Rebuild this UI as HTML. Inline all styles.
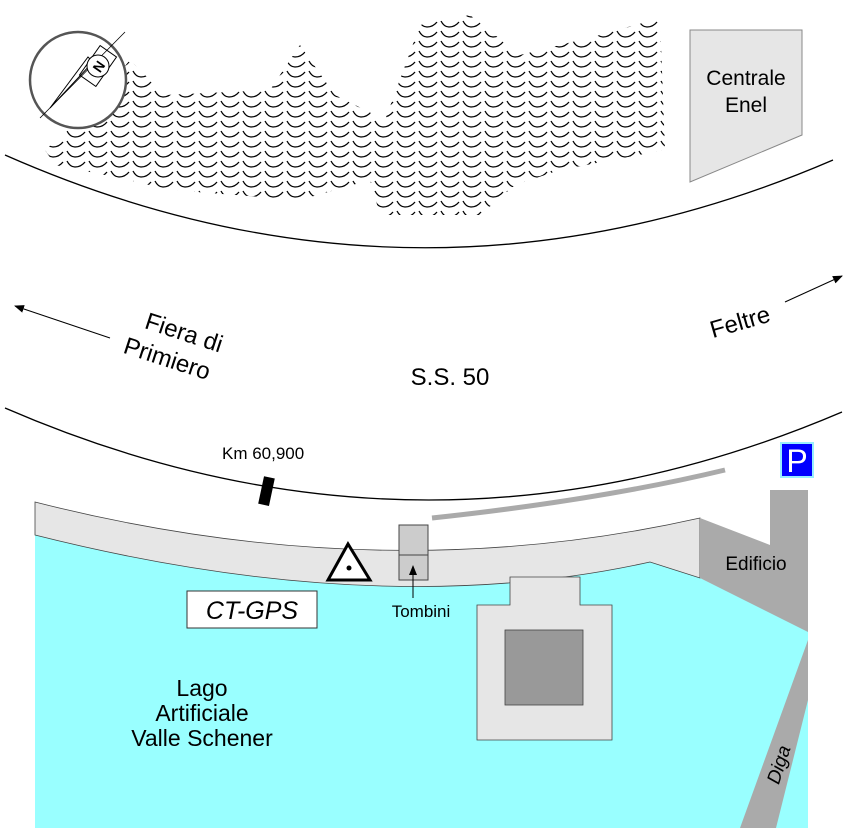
<!DOCTYPE html>
<html><head><meta charset="utf-8"><style>
html,body{margin:0;padding:0;background:#fff}
svg{display:block}
text{font-family:"Liberation Sans",Arial,sans-serif}
</style></head><body>
<svg width="847" height="836" viewBox="0 0 847 836" xmlns="http://www.w3.org/2000/svg">
<defs>
<pattern id="hat" width="22" height="10" patternUnits="userSpaceOnUse">
<path d="M1,1 q3,6 8,6 q6,0 10,-5" fill="none" stroke="#000" stroke-width="1.3"/>
</pattern>
<marker id="ar" markerWidth="10" markerHeight="10" refX="9" refY="5" orient="auto" markerUnits="userSpaceOnUse">
<path d="M0,1 L10,5 L0,9 Z" fill="#000"/>
</marker>
</defs>
<!-- mountains -->
<path d="M45,150 L80,120 L130,60 L165,95 L270,90 L300,45 L335,95 L385,120 L420,25 L470,15 L520,55 L600,35 L660,18 L665,150 L560,170 L515,185 L480,215 L380,215 L370,180 L300,200 L170,190 L120,178 L55,165 Z" fill="url(#hat)"/>
<!-- compass -->
<circle cx="78" cy="80" r="48" fill="#fff" stroke="#555" stroke-width="2.5"/>
<path d="M50,108 L93,62 L88,57 Z" fill="#fff" stroke="#000"/>
<line x1="40" y1="118" x2="125" y2="32" stroke="#000" stroke-width="0.8"/>
<rect x="88" y="48" width="20" height="36" fill="none" stroke="#000" transform="rotate(35 98 66)"/>
<circle cx="98" cy="66" r="11" fill="#fff" stroke="#000"/>
<text x="93" y="72" font-size="14" font-weight="bold" transform="rotate(-55 98 66)">N</text>
<!-- Centrale Enel -->
<path d="M690,30 L802,30 L802,135 L690,182 Z" fill="#e6e6e6" stroke="#888"/>
<text x="746" y="85" font-size="21" text-anchor="middle">Centrale</text>
<text x="746" y="112" font-size="21" text-anchor="middle">Enel</text>
<!-- road -->
<path d="M5,155 Q420,338 833,160" fill="none" stroke="#000" stroke-width="1.3"/>
<path d="M5,408 Q425,590 842,412" fill="none" stroke="#000" stroke-width="1.3"/>
<line x1="110" y1="338" x2="15" y2="306" stroke="#000" marker-end="url(#ar)"/>
<line x1="785" y1="302" x2="842" y2="276" stroke="#000" marker-end="url(#ar)"/>
<g transform="rotate(18 180 345)"><text x="180" y="340" font-size="24" text-anchor="middle">Fiera di</text><text x="172" y="370" font-size="24" text-anchor="middle">Primiero</text></g>
<text x="740" y="330" font-size="24" text-anchor="middle" transform="rotate(-16 740 322)">Feltre</text>
<text x="450" y="385" font-size="24" text-anchor="middle">S.S. 50</text>
<text x="222" y="459" font-size="17">Km 60,900</text>
<rect x="261" y="477" width="11" height="28" fill="#000" transform="rotate(12 266 491)"/>
<path d="M432,518 Q600,500 725,470" fill="none" stroke="#aaa" stroke-width="5"/>
<!-- P -->
<rect x="781" y="443" width="32" height="34" fill="#0000ff" stroke="#9ef" stroke-width="2"/>
<text x="797" y="472" font-size="32" fill="#fff" text-anchor="middle" font-family="Liberation Serif">P</text>
<!-- water -->
<path d="M35,535 Q380,622 650,562 L700,578 L808,630 L808,828 L35,828 Z" fill="#99ffff"/>
<!-- band -->
<path d="M35,502 Q380,590 700,518 L700,578 L650,562 Q380,622 35,535 Z" fill="#e6e6e6" stroke="#444" stroke-width="0.8"/>
<!-- edificio -->
<path d="M700,518 L770,545 L770,490 L808,490 L808,632 L700,578 Z" fill="#aaa"/>
<text x="756" y="570" font-size="19" text-anchor="middle">Edificio</text>
<!-- diga -->
<path d="M808,640 L808,700 L776,828 L740,828 Z" fill="#aaa"/>
<text x="780" y="770" font-size="19" font-style="italic" transform="rotate(-72 780 765)" text-anchor="middle">Diga</text>
<!-- dam building -->
<path d="M510,577 L580,577 L580,605 L612,605 L612,740 L477,740 L477,605 L510,605 Z" fill="#e6e6e6" stroke="#444" stroke-width="0.8"/>
<rect x="505" y="630" width="78" height="75" fill="#999" stroke="#444" stroke-width="0.8"/>
<!-- triangle -->
<path d="M348,544 L328,580 L370,580 Z" fill="#fff" stroke="#000" stroke-width="3"/>
<circle cx="349" cy="568" r="2.5" fill="#000"/>
<!-- tombini -->
<rect x="399" y="525" width="29" height="30" fill="#ccc" stroke="#444"/>
<rect x="399" y="555" width="29" height="25" fill="#ccc" stroke="#444"/>
<line x1="413" y1="598" x2="413" y2="566" stroke="#000" marker-end="url(#ar)"/>
<text x="421" y="617" font-size="17" text-anchor="middle">Tombini</text>
<!-- CT-GPS -->
<rect x="187" y="591" width="130" height="37" fill="#fff" stroke="#333"/>
<text x="252" y="619" font-size="25" font-style="italic" text-anchor="middle">CT-GPS</text>
<text x="202" y="696" font-size="23" text-anchor="middle">Lago</text>
<text x="202" y="721" font-size="23" text-anchor="middle">Artificiale</text>
<text x="202" y="746" font-size="23" text-anchor="middle">Valle Schener</text>
</svg>
</body></html>
